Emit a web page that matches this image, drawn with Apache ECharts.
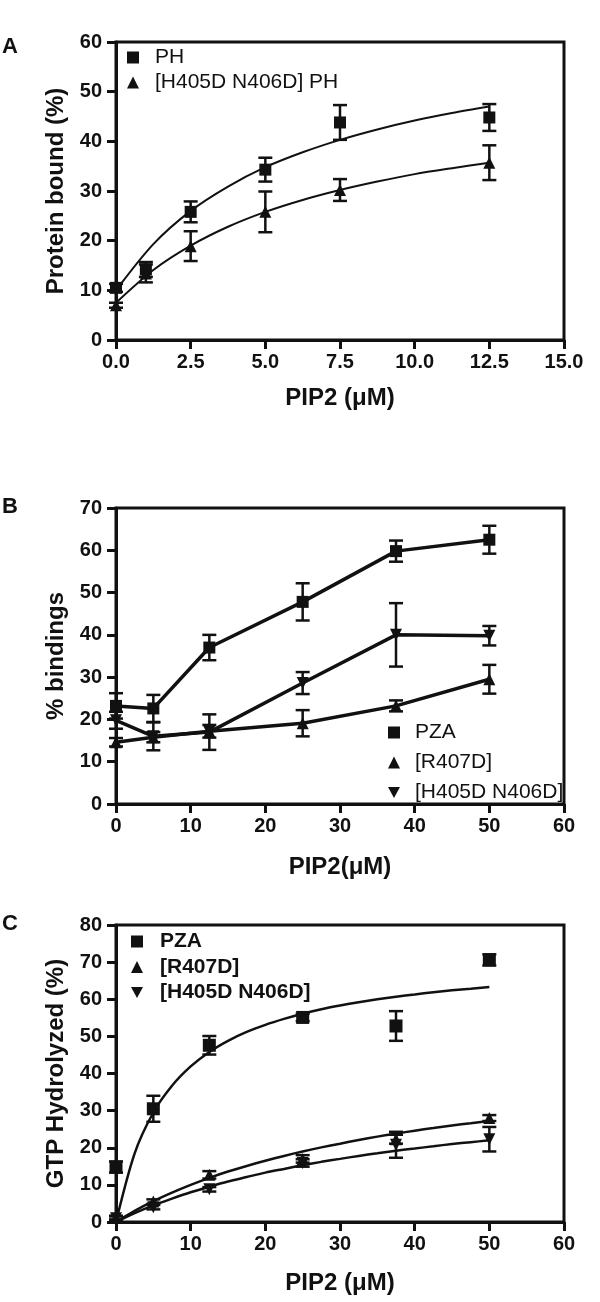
<!DOCTYPE html>
<html>
<head>
<meta charset="utf-8">
<script src="https://cdn.jsdelivr.net/npm/echarts@6/dist/echarts.min.js"></script>
<style>
html,body{margin:0;padding:0;background:#fff;}
#chart{width:600px;height:1302px;}
</style>
</head>
<body>
<div id="chart"></div>
<script>
// ---------- Panel A data ----------
const xA = [0, 1, 2.5, 5, 7.5, 12.5];
const phY = [10.5, 14.2, 25.8, 34.3, 43.8, 44.8];
const phErr = [0.8, 1.5, 2.1, 2.4, 3.5, 2.7];
const mutPhY = [7.0, 13.4, 18.9, 25.8, 30.2, 35.7];
const mutPhErr = [0.5, 1.8, 3.0, 4.1, 2.2, 3.5];
const curveAX = [0, 1.25, 2.5, 3.75, 5, 6.25, 7.5, 8.75, 10, 11.25, 12.5];
const curvePH = [10.0, 19.3, 26.0, 30.9, 34.8, 37.8, 40.3, 42.4, 44.2, 45.7, 47.0];
const curveMutPH = [7.5, 14.1, 19.0, 22.8, 25.8, 28.2, 30.2, 31.9, 33.4, 34.6, 35.7];

// ---------- Panel B data ----------
const xB = [0, 5, 12.5, 25, 37.5, 50];
const pzaB = [23.2, 22.6, 37.0, 47.8, 59.8, 62.5];
const pzaBErr = [3.0, 3.2, 3.0, 4.4, 2.5, 3.3];
const r407B = [14.6, 15.8, 17.2, 19.1, 23.2, 29.5];
const r407BErr = [1.0, 1.2, 1.5, 3.1, 1.3, 3.4];
const hnB = [19.8, 16.0, 17.0, 28.6, 40.0, 39.8];
const hnBErr = [2.0, 3.3, 4.2, 2.6, 7.5, 2.3];

// ---------- Panel C data ----------
const xC = [0, 5, 12.5, 25, 37.5, 50];
const pzaC = [14.8, 30.5, 47.6, 55.1, 52.8, 70.6];
const pzaCErr = [1.5, 3.5, 2.5, 1.0, 4.0, 1.5];
const r407C = [1.2, 5.5, 12.7, 17.0, 22.3, 28.0];
const r407CErr = [0.5, 0.6, 1.0, 1.0, 1.2, 0.8];
const hnC = [1.0, 4.0, 8.8, 15.9, 20.8, 22.3];
const hnCErr = [0.5, 0.6, 0.6, 1.0, 3.5, 3.3];
const curveCX = [0, 2.5, 5, 7.5, 10, 12.5, 15, 17.5, 20, 22.5, 25, 27.5, 30, 32.5, 35, 37.5, 40, 42.5, 45, 47.5, 50];
const curvePZA = [0, 18.5, 29.5, 36.7, 41.9, 45.8, 48.8, 51.2, 53.1, 54.7, 56.1, 57.3, 58.3, 59.2, 60.0, 60.7, 61.3, 61.9, 62.4, 62.8, 63.3];
const curveR407 = [0, 3.0, 5.6, 7.9, 10.0, 11.9, 13.6, 15.1, 16.5, 17.8, 19.0, 20.1, 21.1, 22.1, 23.0, 23.8, 24.6, 25.3, 26.0, 26.6, 27.2];
const curveHN = [0, 2.4, 4.5, 6.3, 8.0, 9.5, 10.9, 12.1, 13.3, 14.3, 15.3, 16.2, 17.0, 17.8, 18.5, 19.2, 19.8, 20.4, 21.0, 21.5, 22.0];

const FONT = "'Liberation Sans', Arial, Helvetica, sans-serif";
const INK = '#111';
const downTri = 'path://M0,0L10,0L5,9Z';

function zip(xs, ys) { return xs.map((x, i) => [x, ys[i]]); }
function zip3(xs, ys, es) { return xs.map((x, i) => [x, ys[i], es[i]]); }

function errRender(params, api) {
  const x = api.value(0), y = api.value(1), e = api.value(2);
  const hi = api.coord([x, y + e]);
  const lo = api.coord([x, y - e]);
  const w = 7;
  const st = { stroke: INK, lineWidth: 2.5 };
  return {
    type: 'group',
    children: [
      { type: 'line', shape: { x1: hi[0], y1: hi[1], x2: lo[0], y2: lo[1] }, style: st },
      { type: 'line', shape: { x1: hi[0] - w, y1: hi[1], x2: hi[0] + w, y2: hi[1] }, style: st },
      { type: 'line', shape: { x1: lo[0] - w, y1: lo[1], x2: lo[0] + w, y2: lo[1] }, style: st }
    ]
  };
}
function errSeries(name, idx, xs, ys, es) {
  return {
    type: 'custom', name: name, xAxisIndex: idx, yAxisIndex: idx,
    renderItem: errRender, data: zip3(xs, ys, es),
    encode: { x: 0, y: 1 }, z: 2, silent: true
  };
}
function scatterSeries(name, idx, xs, ys, symbol, size, rotate) {
  return {
    type: 'scatter', name: name, xAxisIndex: idx, yAxisIndex: idx,
    data: zip(xs, ys), symbol: symbol, symbolSize: size, symbolRotate: rotate || 0,
    itemStyle: { color: INK, opacity: 1 }, z: 4, silent: true
  };
}
function curveSeries(name, idx, xs, ys, width) {
  return {
    type: 'line', name: name, xAxisIndex: idx, yAxisIndex: idx,
    data: zip(xs, ys), showSymbol: false, symbol: 'none',
    smooth: 0.3,
    lineStyle: { color: INK, width: width }, z: 3, silent: true
  };
}
function lineMarkSeries(name, idx, xs, ys, symbol, size, rotate) {
  return {
    type: 'line', name: name, xAxisIndex: idx, yAxisIndex: idx,
    data: zip(xs, ys), symbol: symbol, symbolSize: size, symbolRotate: rotate || 0,
    showAllSymbol: true,
    lineStyle: { color: INK, width: 3.5 }, itemStyle: { color: INK, opacity: 1 }, z: 3, silent: true
  };
}

function xAxisCfg(idx, min, max, interval, name, gap, fmt) {
  return {
    type: 'value', gridIndex: idx, min: min, max: max, interval: interval,
    name: name, nameLocation: 'middle', nameGap: gap,
    nameTextStyle: { fontFamily: FONT, fontSize: 24, fontWeight: 'bold', color: INK },
    axisLine: { show: true, onZero: false, lineStyle: { color: INK, width: 3 } },
    axisTick: { show: true, length: 9, lineStyle: { color: INK, width: 3 } },
    splitLine: { show: false },
    axisLabel: { fontFamily: FONT, fontSize: 20, fontWeight: 'bold', color: INK, margin: 12,
      formatter: fmt || null }
  };
}
function yAxisCfg(idx, min, max, interval, name) {
  return {
    type: 'value', gridIndex: idx, min: min, max: max, interval: interval,
    name: name, nameLocation: 'middle', nameGap: 45,
    nameTextStyle: { fontFamily: FONT, fontSize: 24, fontWeight: 'bold', color: INK },
    axisLine: { show: true, onZero: false, lineStyle: { color: INK, width: 3 } },
    axisTick: { show: true, length: 9, lineStyle: { color: INK, width: 3 } },
    splitLine: { show: false },
    axisLabel: { fontFamily: FONT, fontSize: 20, fontWeight: 'bold', color: INK, margin: 14 }
  };
}
function gridCfg(top, height) {
  return { left: 116, top: top, width: 448, height: height, show: true,
    borderColor: INK, borderWidth: 3, backgroundColor: 'transparent' };
}
function legendCfg(left, top, gap, bold, pad, items) {
  return {
    orient: 'vertical', left: left, top: top, itemGap: gap,
    itemWidth: 12, itemHeight: 12, selectedMode: false,
    textStyle: { fontFamily: FONT, fontSize: 21, lineHeight: 21, color: INK,
      fontWeight: bold ? 'bold' : 'normal', padding: [0, 0, 0, pad] },
    data: items
  };
}

const option = {
  animation: false,
  backgroundColor: '#fff',
  grid: [gridCfg(42, 298), gridCfg(508, 296), gridCfg(925, 297)],
  xAxis: [
    xAxisCfg(0, 0, 15, 2.5, 'PIP2 (\u03bcM)', 46, v => v.toFixed(1)),
    xAxisCfg(1, 0, 60, 10, 'PIP2(\u03bcM)', 51),
    xAxisCfg(2, 0, 60, 10, 'PIP2 (\u03bcM)', 49)
  ],
  yAxis: [
    yAxisCfg(0, 0, 60, 10, 'Protein bound (%)'),
    yAxisCfg(1, 0, 70, 10, '% bindings'),
    yAxisCfg(2, 0, 80, 10, 'GTP Hydrolyzed (%)')
  ],
  legend: [
    legendCfg(122, 42, 4, false, 11, [
      { name: 'PH', icon: 'rect' },
      { name: '[H405D N406D] PH', icon: 'triangle' }
    ]),
    legendCfg(383, 717, 9, false, 10, [
      { name: 'PZA', icon: 'rect' },
      { name: '[R407D]', icon: 'triangle' },
      { name: '[H405D N406D]', icon: downTri }
    ]),
    legendCfg(126, 926, 4.5, true, 12, [
      { name: 'PZA', icon: 'rect' },
      { name: '[R407D]', icon: 'triangle' },
      { name: '[H405D N406D]', icon: downTri }
    ])
  ],
  graphic: [
    { type: 'text', left: 2, top: 36, style: { text: 'A', font: 'bold 22px ' + FONT, fill: INK } },
    { type: 'text', left: 2, top: 496, style: { text: 'B', font: 'bold 22px ' + FONT, fill: INK } },
    { type: 'text', left: 2, top: 913, style: { text: 'C', font: 'bold 22px ' + FONT, fill: INK } }
  ],
  series: [
    // Panel A
    curveSeries('fitPH', 0, curveAX, curvePH, 2),
    curveSeries('fitMutPH', 0, curveAX, curveMutPH, 2),
    errSeries('errPH', 0, xA, phY, phErr),
    errSeries('errMutPH', 0, xA, mutPhY, mutPhErr),
    scatterSeries('PH', 0, xA, phY, 'rect', 12),
    scatterSeries('[H405D N406D] PH', 0, xA, mutPhY, 'triangle', 12),
    // Panel B
    errSeries('errPZAB', 1, xB, pzaB, pzaBErr),
    errSeries('errR407B', 1, xB, r407B, r407BErr),
    errSeries('errHNB', 1, xB, hnB, hnBErr),
    lineMarkSeries('PZA', 1, xB, pzaB, 'rect', 12),
    lineMarkSeries('[R407D]', 1, xB, r407B, 'triangle', 12),
    lineMarkSeries('[H405D N406D]', 1, xB, hnB, 'triangle', 12, 180),
    // Panel C
    curveSeries('fitPZAC', 2, curveCX, curvePZA, 2.5),
    curveSeries('fitR407C', 2, curveCX, curveR407, 2.5),
    curveSeries('fitHNC', 2, curveCX, curveHN, 2.5),
    errSeries('errPZAC', 2, xC, pzaC, pzaCErr),
    errSeries('errR407C', 2, xC, r407C, r407CErr),
    errSeries('errHNC', 2, xC, hnC, hnCErr),
    scatterSeries('PZA', 2, xC, pzaC, 'rect', 13),
    scatterSeries('[R407D]', 2, xC, r407C, 'triangle', 12),
    scatterSeries('[H405D N406D]', 2, xC, hnC, 'triangle', 12, 180)
  ]
};

const chart = echarts.init(document.getElementById('chart'), null, { renderer: 'canvas' });
chart.setOption(option);
</script>
</body>
</html>
